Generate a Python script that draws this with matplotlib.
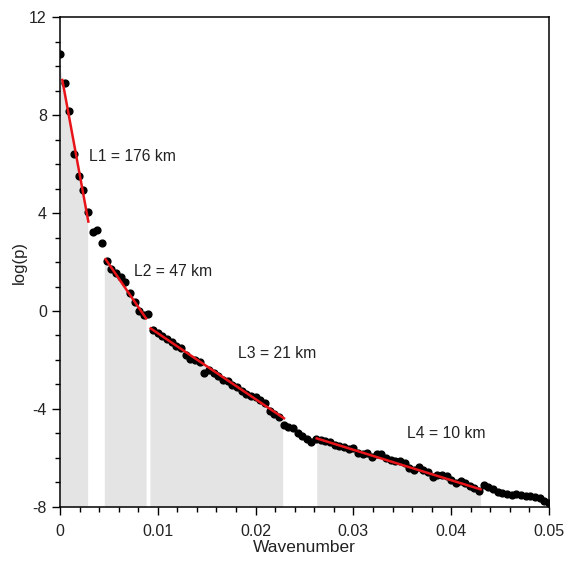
import matplotlib
matplotlib.use("Agg")
import matplotlib.pyplot as plt
import numpy as np

plt.rcParams["font.family"] = ["Liberation Sans", "DejaVu Sans"]

# wavenumber grid (1/2100 spacing) and spectrum values
WAVENUMBER = [
    0.00000, 0.00048, 0.00095, 0.00143, 0.00190, 0.00238, 0.00286, 0.00333, 0.00381, 0.00429,
    0.00476, 0.00524, 0.00571, 0.00619, 0.00667, 0.00714, 0.00762, 0.00810, 0.00857, 0.00905,
    0.00952, 0.01000, 0.01048, 0.01095, 0.01143, 0.01190, 0.01238, 0.01286, 0.01333, 0.01381,
    0.01429, 0.01476, 0.01524, 0.01571, 0.01619, 0.01667, 0.01714, 0.01762, 0.01810, 0.01857,
    0.01905, 0.01952, 0.02000, 0.02048, 0.02095, 0.02143, 0.02190, 0.02238, 0.02286, 0.02333,
    0.02381, 0.02429, 0.02476, 0.02524, 0.02571, 0.02619, 0.02667, 0.02714, 0.02762, 0.02810,
    0.02857, 0.02905, 0.02952, 0.03000, 0.03048, 0.03095, 0.03143, 0.03190, 0.03238, 0.03286,
    0.03333, 0.03381, 0.03429, 0.03476, 0.03524, 0.03571, 0.03619, 0.03667, 0.03714, 0.03762,
    0.03810, 0.03857, 0.03905, 0.03952, 0.04000, 0.04048, 0.04095, 0.04143, 0.04190, 0.04238,
    0.04286, 0.04333, 0.04381, 0.04429, 0.04476, 0.04524, 0.04571, 0.04619, 0.04667, 0.04714,
    0.04762, 0.04810, 0.04857, 0.04905, 0.04952, 0.05000,
]
LOGP = [
    10.50, 9.31, 8.18, 6.41, 5.51, 4.94, 4.03, 3.24, 3.30, 2.76,
    2.04, 1.70, 1.54, 1.40, 1.20, 0.75, 0.38, 0.01, -0.16, -0.14,
    -0.78, -0.90, -1.02, -1.16, -1.25, -1.43, -1.52, -1.78, -1.95, -2.00,
    -2.07, -2.52, -2.41, -2.52, -2.66, -2.80, -2.86, -3.02, -3.12, -3.25,
    -3.38, -3.45, -3.52, -3.62, -3.74, -4.08, -4.22, -4.31, -4.65, -4.75,
    -4.79, -4.97, -5.10, -5.22, -5.33, -5.24, -5.26, -5.30, -5.36, -5.45,
    -5.50, -5.54, -5.62, -5.60, -5.78, -5.82, -5.80, -5.95, -5.84, -5.82,
    -6.01, -6.08, -6.11, -6.11, -6.22, -6.42, -6.49, -6.36, -6.50, -6.56,
    -6.79, -6.69, -6.70, -6.73, -6.90, -7.03, -6.93, -7.03, -7.15, -7.24,
    -7.33, -7.12, -7.20, -7.28, -7.37, -7.42, -7.47, -7.51, -7.47, -7.51,
    -7.55, -7.55, -7.60, -7.65, -7.74, -7.85,
]

# fitted segments: (x_start, y_start, x_end, y_end)
FIT_LINES = [
    (0.00024, 9.43, 0.00290, 3.65),
    (0.00467, 2.11, 0.00880, -0.30),
    (0.00927, -0.71, 0.02290, -4.38),
    (0.02625, -5.20, 0.04300, -7.28),
]
# shaded wavenumber windows under each fit
FILL_RANGES = [(0.0, 0.00283), (0.00453, 0.0088), (0.0092, 0.02277), (0.02625, 0.0430)]
LABELS = ["L1 = 176 km", "L2 = 47 km", "L3 = 21 km", "L4 = 10 km"]
LABEL_POS = [(0.0030, 6.3), (0.0076, 1.6), (0.0182, -1.73), (0.03545, -5.02)]

X_TICKS = [0, 0.01, 0.02, 0.03, 0.04, 0.05]
X_TICKLABELS = ["0", "0.01", "0.02", "0.03", "0.04", "0.05"]
Y_TICKS = [-8, -4, 0, 4, 8, 12]
Y_TICKLABELS = ["-8", "-4", "0", "4", "8", "12"]

fig = plt.figure(figsize=(5.69, 5.71), dpi=100)
ax = fig.add_axes([0.1054, 0.1121, 0.8595, 0.8581])

for (x0, y0, x1, y1), (f0, f1) in zip(FIT_LINES, FILL_RANGES):
    slope = (y1 - y0) / (x1 - x0)
    xs = np.array([f0, f1])
    ax.fill_between(xs, y0 + slope * (xs - x0), -8, color="#e4e4e4", lw=0, zorder=1)

ax.plot(WAVENUMBER, LOGP, "o", color="black", ms=4.9, zorder=2)
for x0, y0, x1, y1 in FIT_LINES:
    ax.plot([x0, x1], [y0, y1], color="#e8141a", lw=1.8, zorder=3)

for text, (tx, ty) in zip(LABELS, LABEL_POS):
    ax.text(tx, ty, text, fontsize=11.3, ha="left", va="center", color="#222222")

ax.set_xlim(0, 0.05)
ax.set_ylim(-8, 12)
ax.set_xticks(X_TICKS)
ax.set_xticklabels(X_TICKLABELS)
ax.set_yticks(Y_TICKS)
ax.set_yticklabels(Y_TICKLABELS)
ax.set_xticks(np.arange(0, 0.0501, 0.002), minor=True)
ax.set_yticks(np.arange(-8, 12.1, 1), minor=True)
ax.tick_params(which="major", direction="out", length=6, width=1, labelsize=11.5,
               labelcolor="#222222", top=False, right=False)
ax.tick_params(which="minor", direction="out", length=3.5, width=1, top=False, right=False)
ax.tick_params(axis="x", pad=6)
for s in ax.spines.values():
    s.set_linewidth(1.1)
ax.set_xlabel("Wavenumber", fontsize=12.5, labelpad=1, color="#222222")
ax.set_ylabel("log(p)", fontsize=12, labelpad=2, color="#222222")

fig.savefig("out.png", dpi=100)
